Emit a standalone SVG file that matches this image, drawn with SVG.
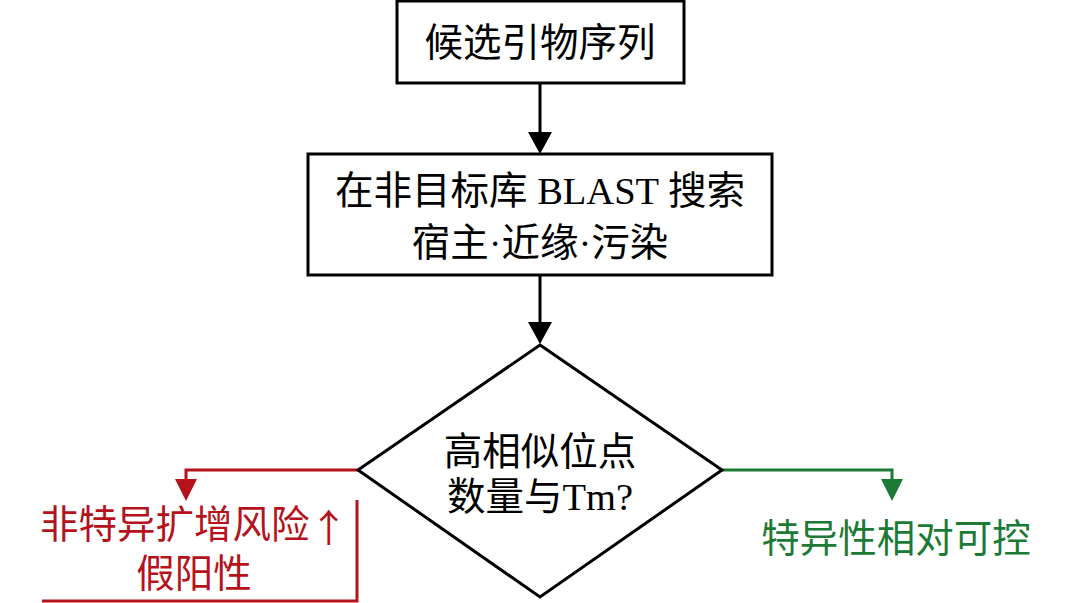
<svg xmlns="http://www.w3.org/2000/svg" width="1080" height="603" viewBox="0 0 1080 603">
<style>
.box{fill:#fff;stroke:#000;stroke-width:3}
.t{font-family:"Liberation Serif","Noto Sans CJK SC",serif;font-size:38.5px;text-anchor:middle;dominant-baseline:central;fill:#000}
.cjk{font-family:"Noto Sans CJK SC",sans-serif}
.red{fill:#B5121B}
.green{fill:#1B7A34}
</style>
<rect width="1080" height="603" fill="#fff"/>
<g id="connectors" fill="none" stroke-width="3">
<line x1="540" y1="83" x2="540" y2="134" stroke="#000"/>
<path d="M528,132 L552,132 L540,154 z" fill="#000" stroke="none"/>
<line x1="540" y1="275" x2="540" y2="324" stroke="#000"/>
<path d="M528,322 L552,322 L540,344 z" fill="#000" stroke="none"/>
<polyline points="358,470 186,470 186,482" stroke="#B5121B"/>
<path d="M175,479 L197,479 L186,501 z" fill="#B5121B" stroke="none"/>
<polyline points="722,470 892,470 892,482" stroke="#1B7A34"/>
<path d="M881,479 L903,479 L892,501 z" fill="#1B7A34" stroke="none"/>
</g>
<g id="n1">
<rect class="box" x="397" y="1" width="287" height="82"/>
<text class="t" x="540" y="43">候选引物序列</text>
</g>
<g id="n2">
<rect class="box" x="308" y="154" width="464" height="121"/>
<text class="t" x="540" y="191">在非目标库 BLAST 搜索</text>
<text class="t" x="540" y="243">宿主·近缘·污染</text>
</g>
<g id="n3">
<polygon class="box" points="540,345 722,470 540,597 358,470"/>
<text class="t" x="540" y="452">高相似位点</text>
<text class="t" x="540" y="497">数量与Tm?</text>
</g>
<g id="n4">
<path d="M357,500 L357,601 L42,601" fill="none" stroke="#B5121B" stroke-width="3"/>
<text class="t red" x="194" y="525">非特异扩增风险<tspan class="cjk">↑</tspan></text>
<text class="t red" x="194" y="574">假阳性</text>
</g>
<g id="n5">
<text class="t green" x="896" y="539">特异性相对可控</text>
</g>
</svg>
